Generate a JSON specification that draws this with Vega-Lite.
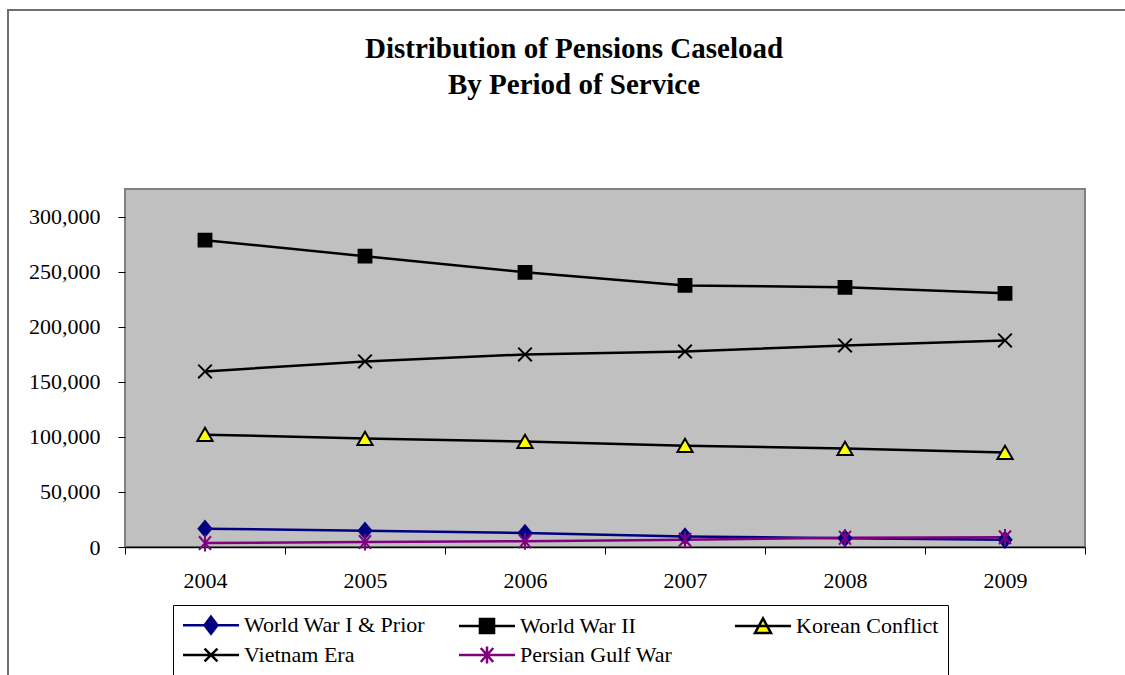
{
  "$schema": "https://vega.github.io/schema/vega-lite/v6.json",
  "width": 960,
  "height": 358,
  "autosize": {"type": "none"},
  "padding": {"left": 125, "top": 189, "right": 40, "bottom": 128},
  "background": "#FFFFFF",
  "title": {
    "text": ["Distribution of Pensions Caseload", "By Period of Service"],
    "font": "Liberation Serif",
    "fontSize": 29,
    "fontWeight": "bold",
    "color": "#000000",
    "lineHeight": 36,
    "offset": -90,
    "frame": "group",
    "dx": -31,
    "anchor": "middle"
  },
  "data": {
    "values": [
      {"year": "2004", "series": "World War I & Prior", "value": 16600},
      {"year": "2005", "series": "World War I & Prior", "value": 14800},
      {"year": "2006", "series": "World War I & Prior", "value": 12700},
      {"year": "2007", "series": "World War I & Prior", "value": 9600},
      {"year": "2008", "series": "World War I & Prior", "value": 8000},
      {"year": "2009", "series": "World War I & Prior", "value": 6600},
      {"year": "2004", "series": "World War II", "value": 278500},
      {"year": "2005", "series": "World War II", "value": 264000},
      {"year": "2006", "series": "World War II", "value": 249400},
      {"year": "2007", "series": "World War II", "value": 237500},
      {"year": "2008", "series": "World War II", "value": 235700},
      {"year": "2009", "series": "World War II", "value": 230300},
      {"year": "2004", "series": "Korean Conflict", "value": 102000},
      {"year": "2005", "series": "Korean Conflict", "value": 98500},
      {"year": "2006", "series": "Korean Conflict", "value": 95700},
      {"year": "2007", "series": "Korean Conflict", "value": 92000},
      {"year": "2008", "series": "Korean Conflict", "value": 89400},
      {"year": "2009", "series": "Korean Conflict", "value": 85700},
      {"year": "2004", "series": "Vietnam Era", "value": 159400},
      {"year": "2005", "series": "Vietnam Era", "value": 168500},
      {"year": "2006", "series": "Vietnam Era", "value": 174800},
      {"year": "2007", "series": "Vietnam Era", "value": 177500},
      {"year": "2008", "series": "Vietnam Era", "value": 183000},
      {"year": "2009", "series": "Vietnam Era", "value": 187500},
      {"year": "2004", "series": "Persian Gulf War", "value": 3600},
      {"year": "2005", "series": "Persian Gulf War", "value": 4500},
      {"year": "2006", "series": "Persian Gulf War", "value": 5200},
      {"year": "2007", "series": "Persian Gulf War", "value": 6600},
      {"year": "2008", "series": "Persian Gulf War", "value": 8400},
      {"year": "2009", "series": "Persian Gulf War", "value": 8800}
    ]
  },
  "encoding": {
    "x": {
      "field": "year",
      "type": "ordinal",
      "bandPosition": 0.5,
      "scale": {"type": "band", "paddingInner": 0, "paddingOuter": 0},
      "axis": {
        "title": null,
        "labelAngle": 0,
        "tickBand": "extent",
        "domainColor": "#000000",
        "domainWidth": 1.5,
        "tickColor": "#000000",
        "tickWidth": 1,
        "tickSize": 7,
        "labelPadding": 16,
        "labelFont": "Liberation Serif",
        "labelFontSize": 22,
        "labelColor": "#000000",
        "grid": false
      }
    },
    "y": {
      "field": "value",
      "type": "quantitative",
      "scale": {"domain": [0, 325000], "nice": false},
      "axis": {
        "title": null,
        "values": [0, 50000, 100000, 150000, 200000, 250000, 300000],
        "format": ",.0f",
        "grid": false,
        "domain": false,
        "tickColor": "#000000",
        "tickSize": 7,
        "labelPadding": 18,
        "labelFont": "Liberation Serif",
        "labelFontSize": 22,
        "labelColor": "#000000"
      }
    }
  },
  "layer": [
    {
      "mark": {"type": "line", "strokeWidth": 2.5},
      "encoding": {
        "stroke": {
          "field": "series",
          "type": "nominal",
          "legend": null,
          "scale": {
            "domain": ["World War I & Prior", "World War II", "Korean Conflict", "Vietnam Era", "Persian Gulf War"],
            "range": ["#000080", "#000000", "#000000", "#000000", "#800080"]
          }
        }
      }
    },
    {
      "mark": {"type": "point", "size": 256, "strokeWidth": 2, "opacity": 1},
      "encoding": {
        "stroke": {
          "field": "series",
          "type": "nominal",
          "legend": null,
          "scale": {
            "domain": ["World War I & Prior", "World War II", "Korean Conflict", "Vietnam Era", "Persian Gulf War"],
            "range": ["#000080", "#000000", "#000000", "#000000", "#800080"]
          }
        },
        "fill": {
          "field": "series",
          "type": "nominal",
          "legend": null,
          "scale": {
            "domain": ["World War I & Prior", "World War II", "Korean Conflict", "Vietnam Era", "Persian Gulf War"],
            "range": ["#000080", "#000000", "#FFFF00", "transparent", "transparent"]
          }
        },
        "shape": {
          "field": "series",
          "type": "nominal",
          "legend": null,
          "scale": {
            "domain": ["World War I & Prior", "World War II", "Korean Conflict", "Vietnam Era", "Persian Gulf War"],
            "range": [
              "M0,-0.95L0.8,0L0,0.95L-0.8,0Z",
              "M-0.8,-0.8H0.8V0.8H-0.8Z",
              "M0,-0.85L0.95,0.8H-0.95Z",
              "M-0.85,-0.85L0.85,0.85M-0.85,0.85L0.85,-0.85",
              "M-0.75,-0.85L0.75,0.85M-0.75,0.85L0.75,-0.85M0,-1.05V1.05"
            ]
          }
        }
      }
    },
    {
      "transform": [{"filter": "false"}],
      "mark": {"type": "point", "size": 256, "strokeWidth": 2.5, "opacity": 1},
      "encoding": {
        "stroke": {
          "field": "series",
          "type": "nominal",
          "scale": {
            "domain": ["World War I & Prior", "World War II", "Korean Conflict", "Vietnam Era", "Persian Gulf War"],
            "range": ["#000080", "#000000", "#000000", "#000000", "#800080"]
          }
        },
        "fill": {
          "field": "series",
          "type": "nominal",
          "scale": {
            "domain": ["World War I & Prior", "World War II", "Korean Conflict", "Vietnam Era", "Persian Gulf War"],
            "range": ["#000080", "#000000", "#FFFF00", "transparent", "transparent"]
          }
        },
        "shape": {
          "field": "series",
          "type": "nominal",
          "scale": {
            "domain": ["World War I & Prior", "World War II", "Korean Conflict", "Vietnam Era", "Persian Gulf War"],
            "range": [
              "M-2.95,0H2.95M0,-0.9L0.68,0L0,0.9L-0.68,0Z",
              "M-2.95,0H2.95M-0.74,-0.74H0.74V0.74H-0.74Z",
              "M-2.95,0H2.95M0,-0.8L0.84,0.74H-0.84Z",
              "M-2.95,0H2.95M-0.68,-0.68L0.68,0.68M-0.68,0.68L0.68,-0.68",
              "M-2.95,0H2.95M-0.66,-0.74L0.66,0.74M-0.66,0.74L0.66,-0.74M0,-0.9V0.9"
            ]
          },
          "legend": {
            "title": null,
            "orient": "none",
            "legendX": 48,
            "legendY": 416,
            "direction": "horizontal",
            "columns": 3,
            "gridAlign": "all",
            "columnPadding": 28,
            "rowPadding": 2,
            "padding": 9,
            "strokeColor": "#000000",
            "fillColor": "#FFFFFF",
            "symbolSize": 361,
            "symbolStrokeWidth": 2.5,
            "symbolOffset": 18,
            "labelOffset": 22,
            "labelFont": "Liberation Serif",
            "labelFontSize": 22,
            "labelColor": "#000000",
            "labelLimit": 400
          }
        }
      }
    },
    {
      "transform": [{"filter": "false"}],
      "mark": {"type": "point"},
      "encoding": {
        "color": {
          "field": "value",
          "type": "quantitative",
          "scale": {"domain": [0, 1], "range": ["rgba(255,255,255,0)", "rgba(255,255,255,0)"]},
          "legend": {
            "title": null,
            "orient": "none",
            "legendX": -117,
            "legendY": -179,
            "direction": "vertical",
            "gradientLength": 680,
            "gradientThickness": 1145,
            "gradientStrokeColor": "#333333",
            "gradientStrokeWidth": 2,
            "values": [0],
            "labelExpr": "''",
            "padding": 0
          }
        }
      }
    }
  ],
  "resolve": {"scale": {"shape": "independent", "fill": "independent", "stroke": "independent"}},
  "config": {
    "view": {"fill": "#C0C0C0", "stroke": "#808080", "strokeWidth": 2},
    "font": "Liberation Serif"
  }
}
